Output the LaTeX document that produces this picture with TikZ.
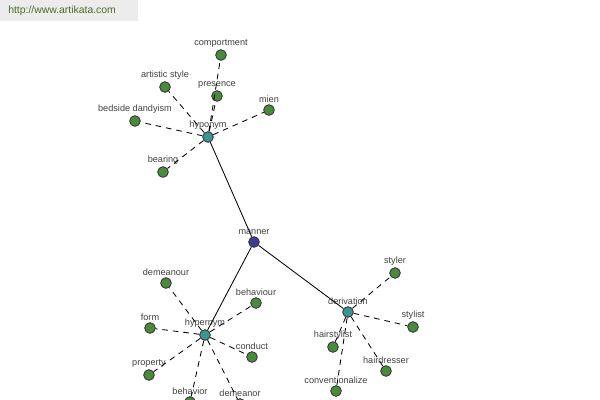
\documentclass[tikz,border=0pt]{standalone}
\usepackage{fontspec}
\setmainfont{Liberation Sans}
\usetikzlibrary{positioning}

\definecolor{leafgreen}{HTML}{4A8A3C}
\definecolor{relteal}{HTML}{3C9494}
\definecolor{rootblue}{HTML}{3C3C96}
\definecolor{linkgreen}{HTML}{4A6A2A}
\definecolor{bargray}{HTML}{ECECEC}

\begin{document}
\begin{tikzpicture}[
    x=0.025cm, y=-0.025cm,
    % small round word nodes
    word/.style={
        circle,
        draw=black!80,
        line width=0.6pt,
        minimum size=7.6pt,
        inner sep=0pt,
        fill=leafgreen,
        label={[lbl]above:#1}
    },
    rel/.style={word=#1, fill=relteal},
    root/.style={word=#1, fill=rootblue},
    lbl/.style={font=\fontsize{6.5}{7}\selectfont, text=black!75, inner sep=0pt, label distance=1pt},
    solidlink/.style={line width=0.6pt},
    dashlink/.style={line width=0.6pt, dash pattern=on 4pt off 3.5pt}
]

    \clip (0,0) rectangle (600,400);

    % --- Header ---
    \fill[bargray] (0,0) rectangle (138,21);
    \node[font=\fontsize{7.4}{8}\selectfont, text=linkgreen, anchor=west, inner sep=0pt] (site) at (8,11) {http://www.artikata.com};

    % --- Nodes ---
    \node[root=manner] (manner) at (254,242) {};

    \node[rel=hyponym] (hyponym) at (208,137) {};
    \node[rel=hypernym] (hypernym) at (205,335) {};
    \node[rel=derivation] (derivation) at (348,312) {};

    % hyponym group
    \node[word=comportment] (comportment) at (221,55) {};
    \node[word=presence] (presence) at (217,96) {};
    \node[word=artistic style] (artstyle) at (165,87) {};
    \node[word=mien] (mien) at (269,110) {};
    \node[word=bedside dandyism] (dandyism) at (135,121) {};
    \node[word=bearing] (bearing) at (163,172) {};

    % hypernym group
    \node[word=demeanour] (demeanour) at (166,283) {};
    \node[word=behaviour] (behaviour) at (256,303) {};
    \node[word=form] (form) at (150,328) {};
    \node[word=conduct] (conduct) at (252,357) {};
    \node[word=property] (property) at (149,375) {};
    \node[word=behavior] (behavior) at (190,402) {};
    \node[word=demeanor] (demeanor) at (240,404) {};

    % derivation group
    \node[word=styler] (styler) at (395,273) {};
    \node[word=stylist] (stylist) at (413,327) {};
    \node[word=hairstylist] (hairstylist) at (333,347) {};
    \node[word=hairdresser] (hairdresser) at (386,371) {};
    \node[word=conventionalize] (conventionalize) at (336,391) {};

    % --- Edges ---
    \draw[solidlink] (manner) -- (hyponym);
    \draw[solidlink] (manner) -- (hypernym);
    \draw[solidlink] (manner) -- (derivation);

    \foreach \leaf in {comportment, presence, artstyle, mien, dandyism, bearing}
        \draw[dashlink] (hyponym) -- (\leaf);
    \foreach \leaf in {demeanour, behaviour, form, conduct, property, behavior, demeanor}
        \draw[dashlink] (hypernym) -- (\leaf);
    \foreach \leaf in {styler, stylist, hairstylist, hairdresser, conventionalize}
        \draw[dashlink] (derivation) -- (\leaf);

\end{tikzpicture}
\end{document}
